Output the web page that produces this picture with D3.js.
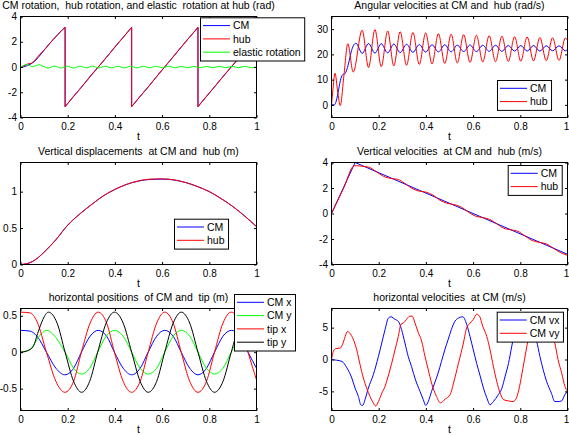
<!DOCTYPE html>
<html><head><meta charset="utf-8">
<script src="https://cdn.jsdelivr.net/npm/d3@7"></script>
<style>
html,body{margin:0;padding:0;background:#fff;}
svg{display:block;}
text{font-family:'Liberation Sans',Arial,Helvetica,sans-serif;fill:#000;white-space:pre;}
</style></head>
<body>
<script>
// ---------------- DATA ----------------
const xTickVals = [0, 0.2, 0.4, 0.6, 0.8, 1];
const xTickLabels = ["0", "0.2", "0.4", "0.6", "0.8", "1"];

// Panel 1: rotations (rad)
const rotT = [0,0.015,0.03,0.045,0.06,0.075,0.09,0.105,0.12,0.14,0.16,0.175,0.189,
  0.189,0.224,0.259,0.294,0.33,0.365,0.4,0.435,0.471,
  0.471,0.506,0.541,0.576,0.611,0.646,0.681,0.716,0.752,
  0.752,0.787,0.822,0.857,0.893,0.929,0.964,1.0];
const cmRot = [0,0.02,0.12,0.25,0.45,0.75,1.1,1.45,1.8,2.2,2.6,2.9,3.14,
  -3.14,-2.36,-1.57,-0.79,0,0.79,1.57,2.36,3.14,
  -3.14,-2.36,-1.57,-0.79,0,0.79,1.57,2.36,3.14,
  -3.14,-2.36,-1.57,-0.79,0,0.79,1.57,2.36];
const hubRot = [0,0.1,0.24,0.28,0.5,0.86,1.16,1.42,1.76,2.22,2.6,2.93,3.14,
  -3.14,-2.33,-1.6,-0.76,0.02,0.77,1.6,2.34,3.14,
  -3.14,-2.34,-1.59,-0.77,0.02,0.78,1.59,2.35,3.14,
  -3.14,-2.35,-1.58,-0.78,0.01,0.8,1.57,2.37];
const elasT = [0,0.01,0.022,0.035,0.05,0.062,0.078,0.095,
  0.117,0.144,0.171,0.198,0.225,0.252,0.278,0.305,0.332,0.359,
  0.386,0.413,0.440,0.467,0.494,0.520,0.547,0.574,0.601,0.628,
  0.655,0.682,0.709,0.736,0.763,0.789,0.816,0.843,0.870,0.897,
  0.924,0.951,0.978,1.0];
const elasRot = [0,0.08,0.2,0.14,0.02,0.08,0.18,0.06,
  -0.08,0.07,-0.08,0.07,-0.08,0.07,-0.07,0.07,-0.07,0.06,
  -0.07,0.06,-0.07,0.06,-0.07,0.06,-0.06,0.06,-0.06,0.06,
  -0.06,0.05,-0.06,0.05,-0.06,0.05,-0.06,0.05,-0.06,0.05,
  -0.06,0.05,-0.06,0.0];

// Panel 2: angular velocities (rad/s)
const oscT = [0.130,0.157,0.184,0.211,0.238,0.264,0.291,0.318,0.345,0.372,
  0.399,0.426,0.453,0.480,0.507,0.533,0.560,0.587,0.614,0.641,
  0.668,0.695,0.722,0.749,0.776,0.802,0.829,0.856,0.883,0.910,
  0.937,0.964,0.991];
const hubVelT = [0,0.005,0.015,0.026,0.037,0.053,0.069,0.092, ...oscT, 1.0];
const hubVel = [0,5,12.5,5.5,-0.3,12,24.2,13,
  29.6,14.8,29.8,15.1,29.3,15.4,29.0,15.7,28.7,16.0,
  28.5,16.2,28.2,16.4,28.0,16.6,27.8,16.8,27.6,17.0,
  27.4,17.1,27.2,17.2,27.0,17.3,26.9,17.4,26.7,17.5,
  26.6,17.6,26.5, 25.5];
const cmVelT = [0,0.012,0.02,0.03,0.04,0.048,0.056,0.065,0.075,0.085,0.095,0.104, ...oscT, 1.0];
const cmVel = [0,0,1.5,6,10.5,12,12.3,14,17.5,21.5,23.8,24.4,
  20.4,24.3,20.5,24.2,20.6,24.1,20.7,24.0,20.8,23.9,
  20.9,23.8,21.0,23.8,21.0,23.7,21.1,23.7,21.1,23.6,
  21.2,23.6,21.2,23.5,21.3,23.5,21.3,23.5,21.3,23.4,
  21.4,23.4,21.4, 22.0];

// Panel 3: vertical displacements (m)
const vdT = [0,0.025,0.05,0.075,0.1,0.125,0.15,0.2,0.25,0.3,0.35,0.4,0.45,0.5,0.55,0.6,0.65,0.7,0.75,0.8,0.85,0.9,0.95,1.0];
const cmVd = [0,0.01,0.04,0.095,0.17,0.25,0.34,0.54,0.69,0.82,0.94,1.03,1.10,1.145,1.168,1.172,1.16,1.125,1.07,1.0,0.905,0.795,0.665,0.52];
const hubVd = [0,0.01,0.04,0.095,0.17,0.25,0.34,0.54,0.69,0.82,0.94,1.03,1.10,1.148,1.172,1.176,1.162,1.125,1.07,1.0,0.905,0.795,0.665,0.52];

// Panel 4: vertical velocities (m/s)
const cmVvT = [0, 0.1, 1.0];
const cmVv = [0, 4.0, -3.2];
const hubVvT = [0,0.05,0.097,0.13,0.16,0.19,0.22,0.25,0.28,0.31,0.34,0.37,0.40,0.43,0.46,0.49,0.52,0.55,0.58,0.61,0.64,0.67,0.70,0.73,0.76,0.79,0.82,0.85,0.88,0.91,0.94,0.97,1.0];
const hubVv = [0,1.93,3.75,3.71,3.62,3.28,2.92,2.75,2.68,2.37,1.98,1.76,1.68,1.44,1.04,0.80,0.70,0.50,0.11,-0.20,-0.32,-0.46,-0.80,-1.16,-1.28,-1.40,-1.76,-2.12,-2.26,-2.38,-2.72,-3.06,-3.28];

// Panel 5: horizontal positions (m)
const cmxT = [0,0.04,0.07,0.11,0.15,0.188,0.225,0.258,0.295,0.329,0.365,0.398,0.435,0.471,0.507,0.541,0.577,0.611,0.647,0.681,0.717,0.752,0.788,0.822,0.858,0.893,0.93,0.964,1.0];
const cmX = [0.30,0.29,0.22,0.0,-0.22,-0.31,-0.22,0,0.22,0.30,0.22,0,-0.22,-0.31,-0.22,0,0.22,0.30,0.22,0,-0.22,-0.31,-0.22,0,0.22,0.30,0.22,0,-0.22];
const tipX = [0.55,0.54,0.42,0,-0.40,-0.55,-0.40,0,0.40,0.55,0.40,0,-0.40,-0.55,-0.40,0,0.40,0.55,0.40,0,-0.40,-0.55,-0.40,0,0.40,0.55,0.40,0,-0.38];
const cmyT = [0,0.03,0.05,0.075,0.112,0.15,0.189,0.225,0.258,0.293,0.327,0.363,0.398,0.435,0.471,0.507,0.541,0.577,0.611,0.647,0.681,0.717,0.752,0.788,0.822,0.858,0.893,0.93,0.964,1.0];
const cmY = [0,0.02,0.07,0.2,0.30,0.2,0,-0.22,-0.30,-0.22,0,0.22,0.30,0.22,0,-0.22,-0.30,-0.22,0,0.22,0.30,0.22,0,-0.22,-0.30,-0.22,0,0.22,0.30,0.22];
const tipyT = [0,0.03,0.054,0.075,0.095,0.118,0.155,0.189,0.225,0.259,0.293,0.327,0.363,0.398,0.435,0.471,0.507,0.541,0.577,0.611,0.647,0.681,0.717,0.752,0.788,0.822,0.858,0.893,0.93,0.964,1.0];
const tipY = [0,0.02,0.08,0.28,0.45,0.55,0.40,0,-0.40,-0.55,-0.40,0,0.40,0.55,0.40,0,-0.40,-0.55,-0.40,0,0.40,0.55,0.40,0,-0.40,-0.55,-0.40,0,0.40,0.55,0.40];

// Panel 6: horizontal velocities (m/s)
const vxT = [0,0.02,0.044,0.065,0.086,0.1,0.114,0.124,0.132,0.142,
  0.156,0.177,0.199,0.213,0.227,0.241,0.252,0.269,0.283,0.297,
  0.311,0.325,0.339,0.356,0.375,0.389,0.399,0.41,0.424,0.437,
  0.452,0.466,0.48,0.494,0.508,0.523,0.538,0.556,0.573,0.587,
  0.601,0.615,0.63,0.644,0.658,0.672,0.686,0.707,0.722,0.736,
  0.75,0.764,0.778,0.795,0.81,0.83,0.85,0.869,0.883,0.897,
  0.911,0.932,0.946,0.96,0.975,0.989,1.0];
const cmVx = [0,-0.1,-0.3,-1.3,-2.9,-4.5,-5.8,-7.1,-7.2,-6.3,
  -4.5,-2.4,0.5,2.6,4.7,6.5,6.7,6.3,6.0,4.7,
  2.6,0.5,-1.1,-3.2,-5.0,-6.3,-7.2,-6.6,-5.0,-3.7,
  -2.1,-0.3,1.5,3.1,4.7,6.0,6.5,6.7,5.5,3.6,
  1.5,-0.6,-2.6,-4.5,-6.0,-7.1,-6.6,-5.5,-4.5,-2.6,
  -0.6,2.1,4.7,6.2,6.6,6.2,4.8,2.9,0.5,-1.6,
  -3.4,-5.3,-6.6,-6.6,-6.5,-5.5,-5.0];
const vyT = [0,0.008,0.018,0.037,0.046,0.058,0.068,0.076,0.093,0.107,
  0.121,0.135,0.149,0.163,0.177,0.187,0.199,0.213,0.227,0.238,
  0.255,0.269,0.283,0.294,0.304,0.318,0.332,0.342,0.354,0.368,
  0.382,0.396,0.41,0.424,0.445,0.461,0.482,0.503,0.517,0.538,
  0.559,0.573,0.587,0.601,0.615,0.627,0.641,0.658,0.672,0.686,
  0.7,0.715,0.729,0.75,0.769,0.783,0.797,0.811,0.825,0.839,
  0.855,0.875,0.895,0.915,0.932,0.946,0.96,0.975,0.989,1.0];
const cmVy = [0,1.3,1.7,1.8,2.3,3.6,4.4,4.2,3.1,1.5,
  -0.8,-2.9,-4.5,-5.8,-6.8,-7.3,-6.6,-5.3,-4.2,-2.9,
  -0.6,1.5,3.6,5.5,5.7,6.3,6.8,6.8,5.7,4.2,
  2.9,0.5,-1.6,-3.7,-5.8,-6.8,-6.2,-5.5,-3.7,-0.6,
  2.6,5.0,5.7,6.3,7.1,6.8,5.2,3.6,1.5,-1.1,
  -3.4,-5.3,-6.3,-6.5,-6.6,-6.1,-4.2,-1.4,1.5,4.2,
  6.0,6.9,6.5,5.4,4.2,2.6,0,-2.1,-4.2,-5.0];

// ---------------- CHART ----------------
const W = 569, H = 435;
const FS = 10.5, TFS = 10;
const BLUE = "#0000ff", RED = "#ff0000", GREEN = "#00ff00", BLACK = "#000000";
const cols = [[20.5, 256.5], [331.5, 567.5]];
const rows = [[16.5, 117.5], [162.5, 264.5], [308.5, 410.5]];

const svg = d3.select("body").append("svg").attr("width", W).attr("height", H);
const legendLayer = [];
const zip = (t, v) => t.map((d, i) => [d, v[i]]);

const panels = [
  { col:0, row:0, yDomain:[-4,4], yTicks:[-4,-2,0,2,4], yLabels:["-4","-2","0","2","4"],
    title:"CM rotation,  hub rotation, and elastic  rotation at hub (rad)",
    series:[ {t:rotT, v:cmRot, c:BLUE, name:"CM", curve:d3.curveLinear},
             {t:rotT, v:hubRot, c:RED, name:"hub", curve:d3.curveLinear},
             {t:elasT, v:elasRot, c:GREEN, name:"elastic rotation", curve:d3.curveMonotoneX} ],
    legend:{x:200, y:17.3} },
  { col:1, row:0, yDomain:[-5,35], yTicks:[0,10,20,30], yLabels:["0","10","20","30"],
    title:"Angular velocities at CM and  hub (rad/s)",
    series:[ {t:cmVelT, v:cmVel, c:BLUE, name:"CM", curve:d3.curveMonotoneX},
             {t:hubVelT, v:hubVel, c:RED, name:"hub", curve:d3.curveMonotoneX} ],
    legend:{x:497, y:80} },
  { col:0, row:1, yDomain:[0,1.4], yTicks:[0,0.5,1], yLabels:["0","0.5","1"],
    title:"Vertical displacements  at CM and  hub (m)",
    series:[ {t:vdT, v:cmVd, c:BLUE, name:"CM", curve:d3.curveMonotoneX},
             {t:vdT, v:hubVd, c:RED, name:"hub", curve:d3.curveMonotoneX} ],
    legend:{x:174, y:218.7} },
  { col:1, row:1, yDomain:[-4,4], yTicks:[-4,-2,0,2,4], yLabels:["-4","-2","0","2","4"],
    title:"Vertical velocities  at CM and  hub (m/s)",
    series:[ {t:cmVvT, v:cmVv, c:BLUE, name:"CM", curve:d3.curveLinear},
             {t:hubVvT, v:hubVv, c:RED, name:"hub", curve:d3.curveMonotoneX} ],
    legend:{x:507.7, y:165} },
  { col:0, row:2, yDomain:[-0.8,0.6], yTicks:[-0.5,0,0.5], yLabels:["-0.5","0","0.5"],
    title:"horizontal positions  of CM and  tip (m)",
    series:[ {t:cmxT, v:cmX, c:BLUE, name:"CM x", curve:d3.curveMonotoneX},
             {t:cmyT, v:cmY, c:GREEN, name:"CM y", curve:d3.curveMonotoneX},
             {t:cmxT, v:tipX, c:RED, name:"tip x", curve:d3.curveMonotoneX},
             {t:tipyT, v:tipY, c:BLACK, name:"tip y", curve:d3.curveMonotoneX} ],
    legend:{x:234, y:294} },
  { col:1, row:2, yDomain:[-8,8], yTicks:[-5,0,5], yLabels:["-5","0","5"],
    title:"horizontal velocities  at CM (m/s)",
    series:[ {t:vxT, v:cmVx, c:BLUE, name:"CM vx", curve:d3.curveMonotoneX},
             {t:vyT, v:cmVy, c:RED, name:"CM vy", curve:d3.curveMonotoneX} ],
    legend:{x:496.7, y:311.7} }
];

panels.forEach((p, pi) => {
  const [x0, x1] = cols[p.col], [y0, y1] = rows[p.row];
  const x = d3.scaleLinear().domain([0, 1]).range([x0, x1]);
  const y = d3.scaleLinear().domain(p.yDomain).range([y1, y0]);
  const g = svg.append("g");
  const clipId = "clip" + pi;
  svg.append("clipPath").attr("id", clipId).append("rect")
    .attr("x", x0).attr("y", y0).attr("width", x1 - x0).attr("height", y1 - y0);

  const lines = g.append("g").attr("clip-path", `url(#${clipId})`);
  p.series.forEach(s => {
    const line = d3.line().x(d => x(d[0])).y(d => y(d[1])).curve(s.curve);
    lines.append("path").datum(zip(s.t, s.v))
      .attr("d", line).attr("fill", "none").attr("stroke", s.c).attr("stroke-width", 1);
  });

  const TL = 2.5;
  const styleAxis = a => {
    a.select(".domain").remove();
    a.selectAll("line").attr("stroke", "#000").attr("stroke-width", 1);
    a.selectAll("text").attr("font-size", TFS).attr("font-family", null).attr("fill", "#000");
    a.attr("font-family", null).attr("font-size", null);
  };
  const xb = g.append("g").attr("transform", `translate(0,${y1})`)
    .call(d3.axisBottom(x).tickValues(xTickVals).tickFormat((d, i) => xTickLabels[i])
      .tickSizeInner(-TL).tickSizeOuter(0).tickPadding(5)).call(styleAxis);
  if (p.col === 1) {
    // keep the last label inside the page edge
    xb.selectAll(".tick text").filter(d => d === 1).attr("dx", -1.6);
  }
  g.append("g").attr("transform", `translate(0,${y0})`)
    .call(d3.axisTop(x).tickValues(xTickVals).tickFormat("")
      .tickSizeInner(-TL).tickSizeOuter(0)).call(styleAxis);
  g.append("g").attr("transform", `translate(${x0},0)`)
    .call(d3.axisLeft(y).tickValues(p.yTicks).tickFormat((d, i) => p.yLabels[i])
      .tickSizeInner(-TL).tickSizeOuter(0).tickPadding(3.5)).call(styleAxis);
  g.append("g").attr("transform", `translate(${x1},0)`)
    .call(d3.axisRight(y).tickValues(p.yTicks).tickFormat("")
      .tickSizeInner(-TL).tickSizeOuter(0)).call(styleAxis);

  g.append("rect").attr("x", x0).attr("y", y0).attr("width", x1 - x0).attr("height", y1 - y0)
    .attr("fill", "none").attr("stroke", "#000").attr("stroke-width", 1);

  g.append("text").attr("x", (x0 + x1) / 2).attr("y", y0 - 7.5)
    .attr("text-anchor", "middle").attr("font-size", FS).text(p.title);
  g.append("text").attr("x", (x0 + x1) / 2).attr("y", y1 + 22.5)
    .attr("text-anchor", "middle").attr("font-size", FS).text("t");

  legendLayer.push(p);
});

// legends on top
legendLayer.forEach(p => {
  const lg = svg.append("g");
  const box = lg.append("rect").attr("fill", "#fff").attr("stroke", "#000").attr("stroke-width", 1);
  const rowH = 13.3, pad = 8.3;
  let maxW = 0;
  p.series.forEach((s, i) => {
    const cy = p.legend.y + pad + i * rowH;
    lg.append("line").attr("x1", p.legend.x + 3).attr("x2", p.legend.x + 30)
      .attr("y1", cy).attr("y2", cy).attr("stroke", s.c).attr("stroke-width", 1);
    const t = lg.append("text").attr("x", p.legend.x + 33).attr("y", cy + FS * 0.36)
      .attr("font-size", FS).text(s.name);
    maxW = Math.max(maxW, t.node().getComputedTextLength());
  });
  const h = pad * 2 + (p.series.length - 1) * rowH;
  box.attr("x", p.legend.x + 0.5).attr("y", p.legend.y + 0.5)
    .attr("width", 33 + maxW + 3.5).attr("height", h);
});
</script>
</body></html>
